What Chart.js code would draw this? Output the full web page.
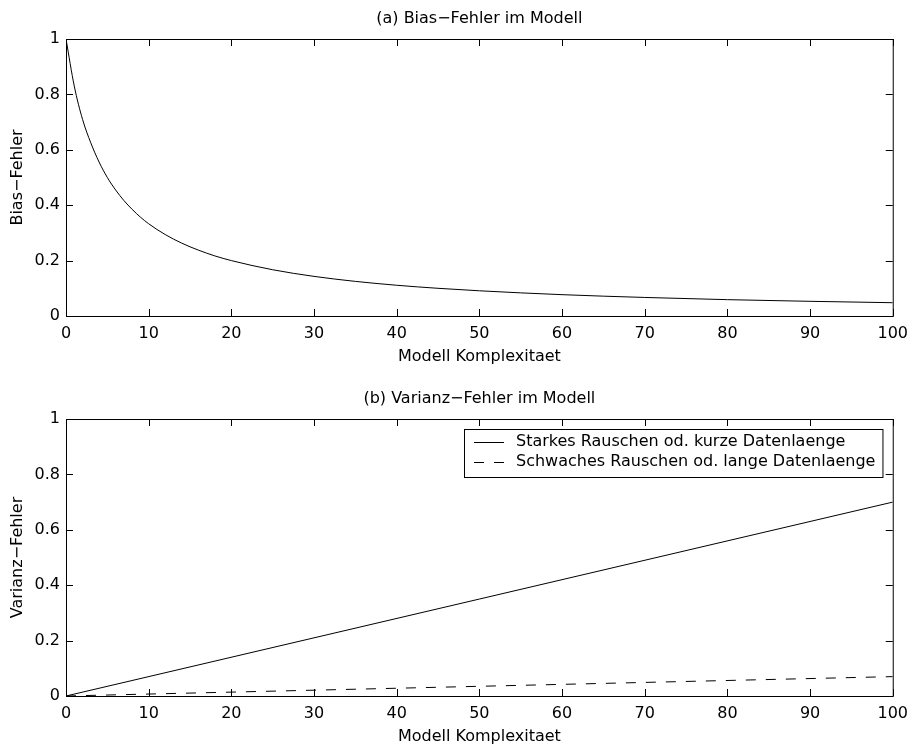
<!DOCTYPE html>
<html>
<head>
<meta charset="utf-8">
<script src="https://cdn.jsdelivr.net/npm/chart.js@4"></script>
<style>
  body { margin: 0; background: #fff; overflow: hidden; }
  canvas { position: absolute; left: 0; }
</style>
</head>
<body>
<canvas id="biasChart" width="916" height="373" style="top:0"></canvas>
<canvas id="varianzChart" width="916" height="373" style="top:380px"></canvas>
<script>
// Werte
const biasX = [0, 1, 2, 3, 4, 5, 6, 7, 8, 9, 10, 12, 14, 16, 18, 20, 25, 30, 35, 40, 45, 50, 60, 70, 80, 90, 100];
const biasY = [1, 0.83, 0.71, 0.625, 0.556, 0.5, 0.455, 0.417, 0.385, 0.357, 0.333, 0.294, 0.263, 0.238, 0.217, 0.2,
  0.167, 0.143, 0.125, 0.111, 0.1, 0.091, 0.077, 0.067, 0.059, 0.053, 0.048];

const varianzX = [0, 100];
const starkY = [0, 0.70];
const schwachY = [0, 0.07];

const titles = ["(a) Bias\u2212Fehler im Modell", "(b) Varianz\u2212Fehler im Modell"];
const yLabels = ["Bias\u2212Fehler", "Varianz\u2212Fehler"];
const xLabel = "Modell Komplexitaet";
const legendLabels = ["Starkes Rauschen od. kurze Datenlaenge", "Schwaches Rauschen od. lange Datenlaenge"];

Chart.defaults.font.family = "'DejaVu Sans', sans-serif";
Chart.defaults.font.size = 16;
Chart.defaults.color = "#000";

const toPoints = (xs, ys) => xs.map((x, i) => ({ x: x, y: ys[i] }));

// Rahmen, Ticks nach innen, Titel und Legende wie in MATLAB
const matlabBox = {
  id: "matlabBox",
  afterDraw(chart, args, opts) {
    const { ctx, chartArea: a, scales } = chart;
    ctx.save();
    ctx.strokeStyle = "#000";
    ctx.lineWidth = 1;
    ctx.setLineDash([]);
    ctx.strokeRect(a.left + 0.5, a.top + 0.5, a.right - a.left, a.bottom - a.top);

    const tl = 7;
    ctx.beginPath();
    scales.x.ticks.forEach((t) => {
      const px = Math.round(scales.x.getPixelForValue(t.value)) + 0.5;
      ctx.moveTo(px, a.bottom);
      ctx.lineTo(px, a.bottom - tl);
      ctx.moveTo(px, a.top);
      ctx.lineTo(px, a.top + tl);
    });
    scales.y.ticks.forEach((t) => {
      const py = Math.round(scales.y.getPixelForValue(t.value)) + 0.5;
      ctx.moveTo(a.left, py);
      ctx.lineTo(a.left + tl, py);
      ctx.moveTo(a.right, py);
      ctx.lineTo(a.right - tl, py);
    });
    ctx.stroke();

    ctx.font = "16px 'DejaVu Sans', sans-serif";
    ctx.fillStyle = "#000";
    ctx.textAlign = "center";
    ctx.textBaseline = "middle";
    ctx.fillText(opts.title, (a.left + a.right) / 2, a.top - 20);

    if (opts.legend) {
      const sets = chart.data.datasets;
      const textW = Math.max(...sets.map((d) => ctx.measureText(d.label).width));
      const w = 10 + 30 + 12 + textW + 7;
      const h = 48;
      const bx = Math.round(a.right - 10 - w);
      const by = Math.round(a.top + 10);
      ctx.fillStyle = "#fff";
      ctx.fillRect(bx, by, w, h);
      ctx.strokeRect(bx + 0.5, by + 0.5, w, h);
      ctx.textAlign = "left";
      sets.forEach((d, i) => {
        const ry = by + 13 + i * 20;
        ctx.setLineDash(d.borderDash || []);
        ctx.beginPath();
        ctx.moveTo(bx + 10, ry + 0.5);
        ctx.lineTo(bx + 40, ry + 0.5);
        ctx.stroke();
        ctx.setLineDash([]);
        ctx.fillStyle = "#000";
        ctx.fillText(d.label, bx + 52, ry);
      });
    }
    ctx.restore();
  },
};

const makeOptions = (title, yLabel, legend) => ({
  responsive: false,
  animation: false,
  devicePixelRatio: 1,
  layout: { padding: { top: 39, right: 17, left: 0, bottom: 0 } },
  elements: { point: { radius: 0 } },
  plugins: {
    legend: { display: false },
    tooltip: { enabled: false },
    matlabBox: { title: title, legend: legend },
  },
  scales: {
    x: {
      type: "linear",
      min: 0,
      max: 100,
      grid: { display: false, drawTicks: false },
      border: { display: false },
      ticks: { stepSize: 10, padding: 8, maxRotation: 0 },
      title: { display: true, text: xLabel, padding: { top: 0, bottom: 7 } },
      afterFit: (scale) => { scale.height = 57; },
    },
    y: {
      min: 0,
      max: 1,
      grid: { display: false, drawTicks: false },
      border: { display: false },
      ticks: { stepSize: 0.2, padding: 6, callback: (v) => String(+v.toFixed(1)) },
      title: { display: true, text: yLabel, padding: { top: 8, bottom: 0 } },
      afterFit: (scale) => { scale.width = 66; },
    },
  },
});

new Chart(document.getElementById("biasChart"), {
  type: "line",
  data: {
    datasets: [
      {
        label: "Bias",
        data: toPoints(biasX, biasY),
        borderColor: "#000",
        borderWidth: 1,
        cubicInterpolationMode: "monotone",
        fill: false,
      },
    ],
  },
  options: makeOptions(titles[0], yLabels[0], false),
  plugins: [matlabBox],
});

new Chart(document.getElementById("varianzChart"), {
  type: "line",
  data: {
    datasets: [
      {
        label: legendLabels[0],
        data: toPoints(varianzX, starkY),
        borderColor: "#000",
        borderWidth: 1,
        fill: false,
      },
      {
        label: legendLabels[1],
        data: toPoints(varianzX, schwachY),
        borderColor: "#000",
        borderWidth: 1,
        borderDash: [10, 10],
        fill: false,
      },
    ],
  },
  options: makeOptions(titles[1], yLabels[1], true),
  plugins: [matlabBox],
});
</script>
</body>
</html>
